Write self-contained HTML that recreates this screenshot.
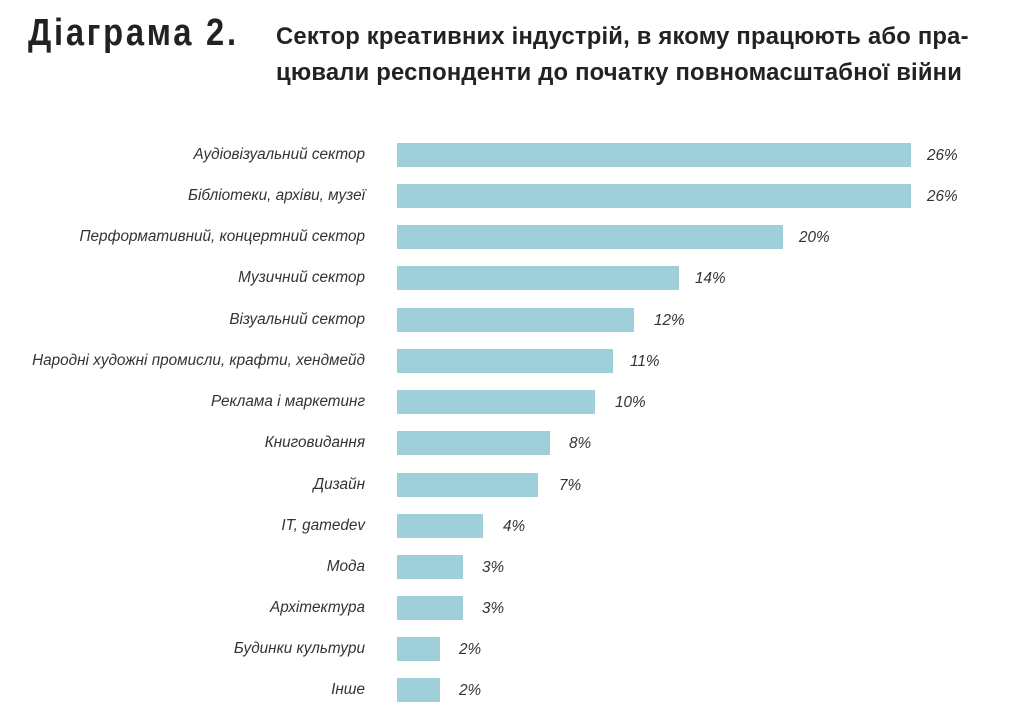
<!DOCTYPE html>
<html><head><meta charset="utf-8"><style>
body{margin:0;width:1024px;height:706px;background:#fff;position:relative;overflow:hidden;font-family:"Liberation Sans","DejaVu Sans",sans-serif;color:#222}
.t1{position:absolute;left:28px;top:12px;font-size:38px;font-weight:bold;letter-spacing:3.2px;color:#222;transform:scaleX(0.86);transform-origin:left top;white-space:nowrap}
.t2{position:absolute;left:276px;top:19px;font-size:23.8px;font-weight:bold;line-height:36px;letter-spacing:0.2px;white-space:nowrap}
.lab{position:absolute;right:659px;font-size:15.3px;font-style:italic;color:#333;white-space:nowrap;transform:translateY(-50%)}
.bar{position:absolute;left:397px;height:24px;background:#9fcfd8}
.val{position:absolute;font-size:15.3px;font-style:italic;color:#333;transform:translateY(-50%)}
</style></head><body>
<div class="t1">Діаграма 2.</div>
<div class="t2">Сектор креативних індустрій, в якому працюють або пра-<br>цювали респонденти до початку повномасштабної війни</div>
<div class="lab" style="top:155px">Аудіовізуальний сектор</div><div class="bar" style="top:143px;width:514px"></div><div class="val" style="top:156px;left:927px">26%</div>
<div class="lab" style="top:196px">Бібліотеки, архіви, музеї</div><div class="bar" style="top:184px;width:514px"></div><div class="val" style="top:197px;left:927px">26%</div>
<div class="lab" style="top:237px">Перформативний, концертний сектор</div><div class="bar" style="top:225px;width:386px"></div><div class="val" style="top:238px;left:799px">20%</div>
<div class="lab" style="top:278px">Музичний сектор</div><div class="bar" style="top:266px;width:282px"></div><div class="val" style="top:279px;left:695px">14%</div>
<div class="lab" style="top:320px">Візуальний сектор</div><div class="bar" style="top:308px;width:237px"></div><div class="val" style="top:321px;left:654px">12%</div>
<div class="lab" style="top:361px">Народні художні промисли, крафти, хендмейд</div><div class="bar" style="top:349px;width:216px"></div><div class="val" style="top:362px;left:630px">11%</div>
<div class="lab" style="top:402px">Реклама і маркетинг</div><div class="bar" style="top:390px;width:198px"></div><div class="val" style="top:403px;left:615px">10%</div>
<div class="lab" style="top:443px">Книговидання</div><div class="bar" style="top:431px;width:153px"></div><div class="val" style="top:444px;left:569px">8%</div>
<div class="lab" style="top:485px">Дизайн</div><div class="bar" style="top:473px;width:141px"></div><div class="val" style="top:486px;left:559px">7%</div>
<div class="lab" style="top:526px">IT, gamedev</div><div class="bar" style="top:514px;width:86px"></div><div class="val" style="top:527px;left:503px">4%</div>
<div class="lab" style="top:567px">Мода</div><div class="bar" style="top:555px;width:66px"></div><div class="val" style="top:568px;left:482px">3%</div>
<div class="lab" style="top:608px">Архітектура</div><div class="bar" style="top:596px;width:66px"></div><div class="val" style="top:609px;left:482px">3%</div>
<div class="lab" style="top:649px">Будинки культури</div><div class="bar" style="top:637px;width:43px"></div><div class="val" style="top:650px;left:459px">2%</div>
<div class="lab" style="top:690px">Інше</div><div class="bar" style="top:678px;width:43px"></div><div class="val" style="top:691px;left:459px">2%</div>
</body></html>
